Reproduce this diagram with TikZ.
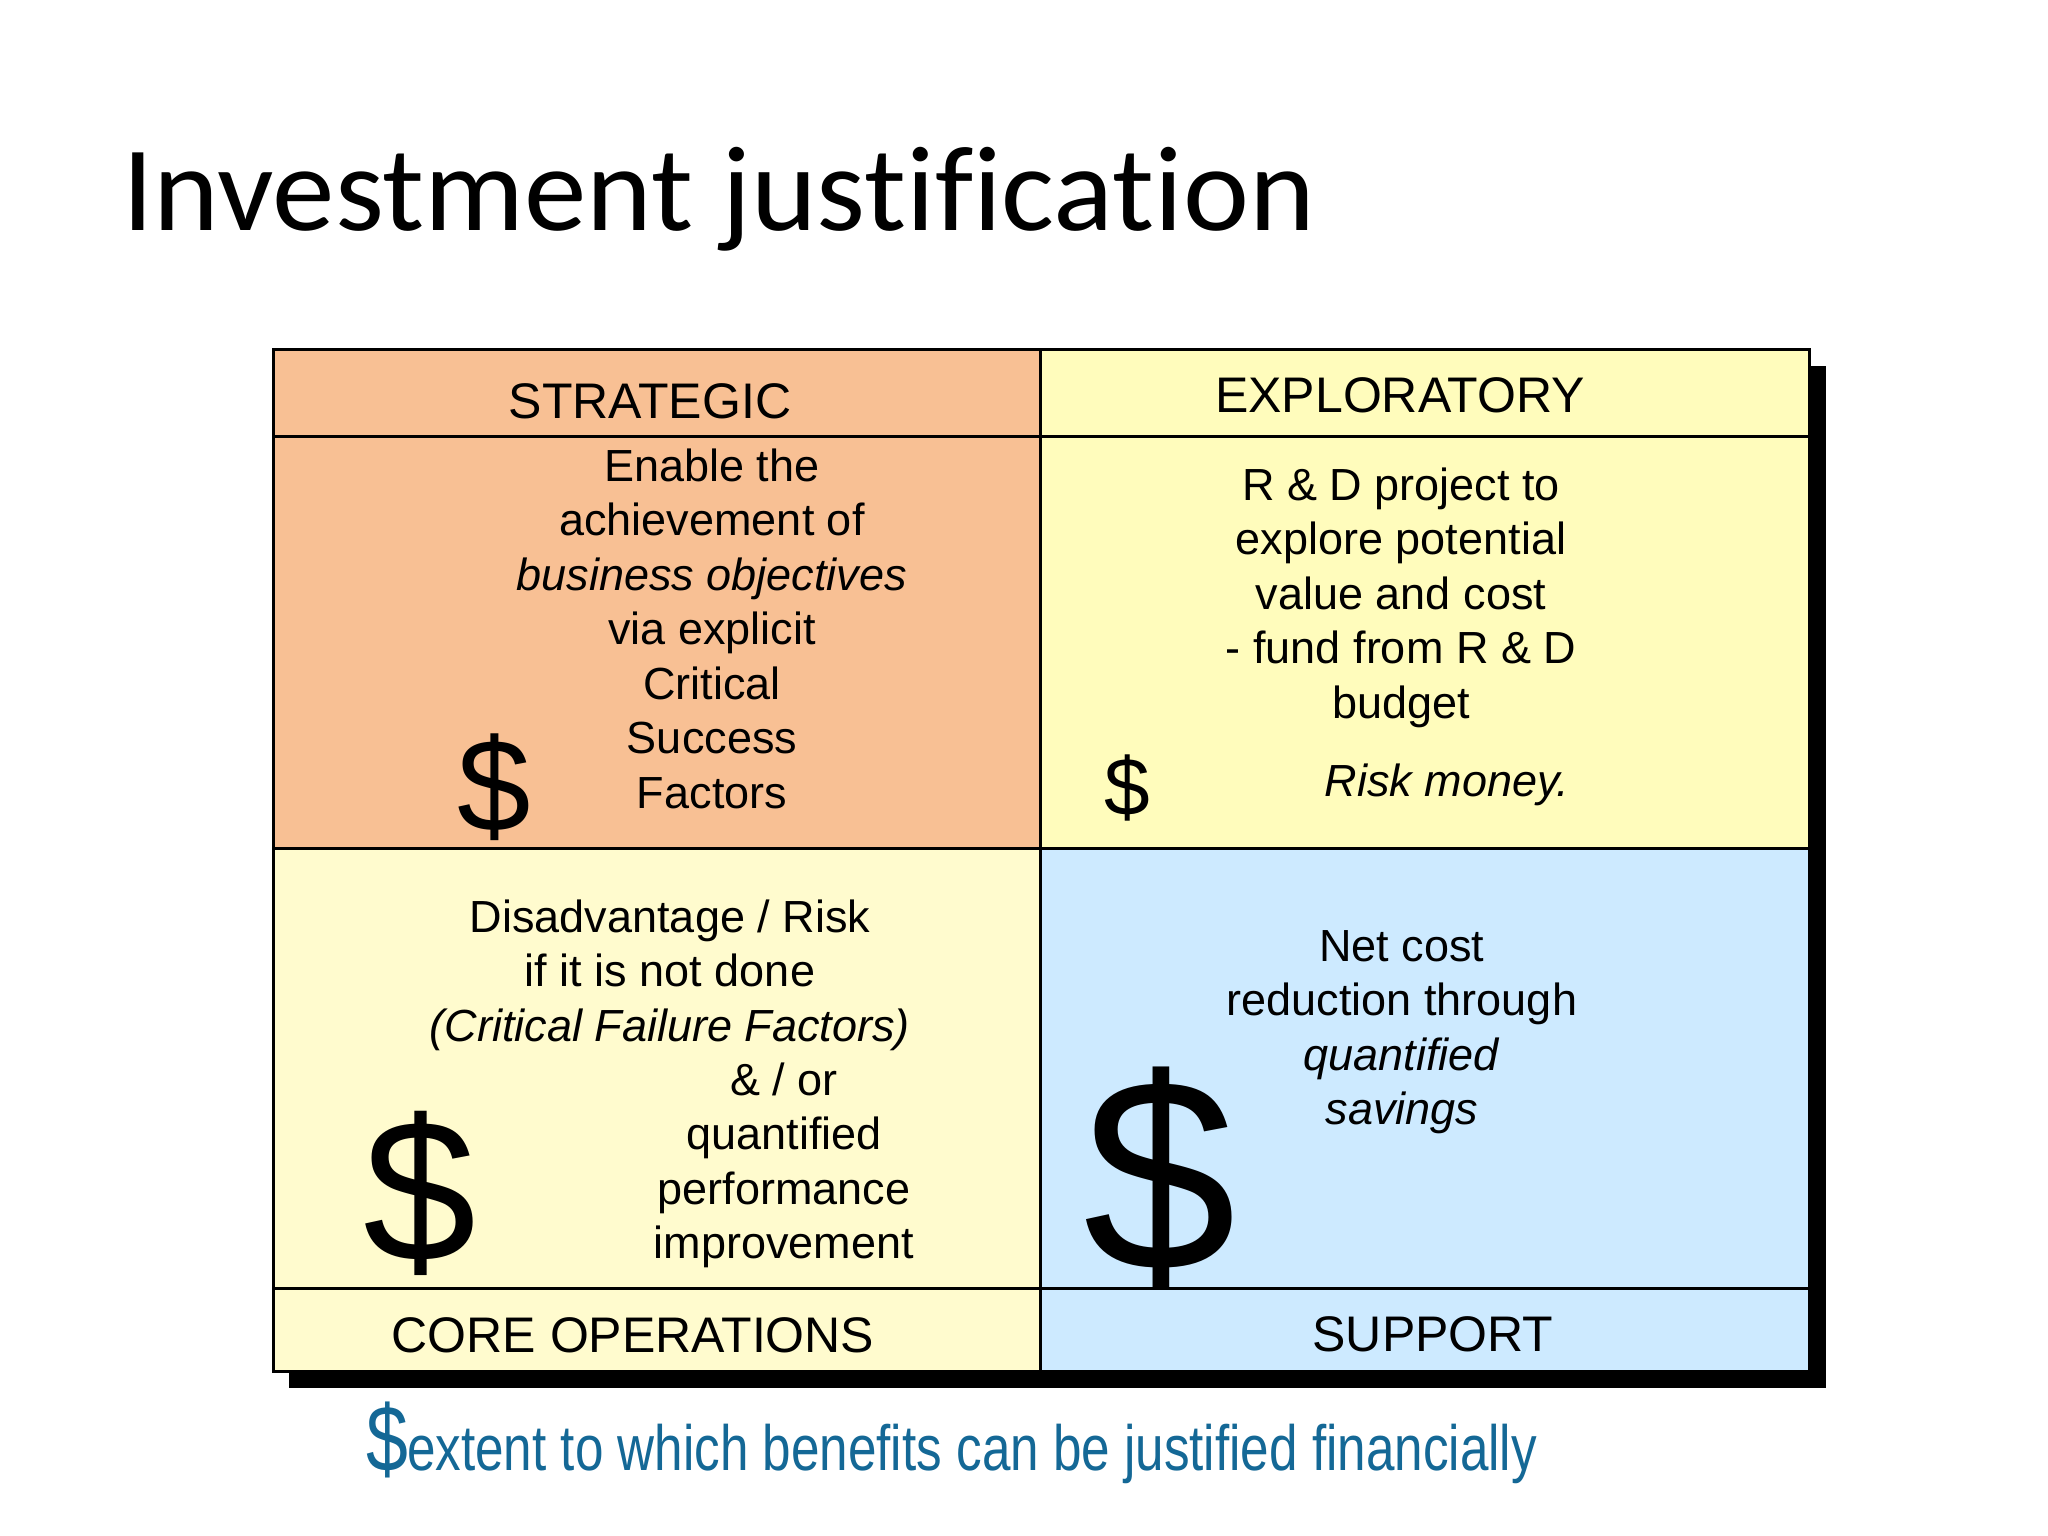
\documentclass[tikz,border=0pt]{standalone}
\usepackage{fontspec}
\setmainfont{Liberation Sans}
\newfontfamily\titlefont[Ligatures={NoCommon},FakeStretch=1.034]{Carlito}
\newfontfamily\narrowfont[FakeStretch=0.8]{Liberation Sans}
\definecolor{peach}{RGB}{248,192,148}
\definecolor{explyel}{RGB}{255,252,188}
\definecolor{coreyel}{RGB}{255,251,206}
\definecolor{supblue}{RGB}{205,234,255}
\definecolor{footblue}{RGB}{20,104,150}
\newcommand{\celltext}[1]{\begin{tabular}[t]{@{}c@{}}#1\end{tabular}}
\tikzset{
  header/.style={inner sep=0pt, anchor=base, font=\fontsize{50}{60}\selectfont},
  body/.style={inner sep=0pt, anchor=base, font=\fontsize{45}{54.5}\selectfont},
  dollar/.style={inner sep=0pt, anchor=center},
  grid/.style={line width=3pt, draw=black}
}
\begin{document}
\begin{tikzpicture}[x=1pt,y=-1pt]
\useasboundingbox (0,0) rectangle (2048,1536);
\fill[white] (0,0) rectangle (2048,1536);
% title
\node[inner sep=0pt, anchor=base west] (title) at (122,230) {\titlefont\fontsize{121}{145}\selectfont Investment justification};
% shadow
\fill[black] (289,366) rectangle (1826,1388);
% quadrants
\fill[peach] (273,349) rectangle (1040,848);
\fill[explyel] (1040,349) rectangle (1809,848);
\fill[coreyel] (273,848) rectangle (1040,1371);
\fill[supblue] (1040,848) rectangle (1809,1371);
\draw[grid] (273,349) rectangle (1809,1371);
\draw[grid] (1040,349) -- (1040,1371);
\draw[grid] (273,848) -- (1809,848);
\draw[grid] (273,436) -- (1809,436);
\draw[grid] (273,1288) -- (1809,1288);
% headers
\node[header] (hstrat) at (650,418) {STRATEGIC};
\node[header] (hexpl) at (1400,412) {EXPLORATORY};
\node[header] (hcore) at (633,1352) {CORE OPERATIONS};
\node[header] (hsup) at (1433,1351) {SUPPORT};
% strategic
\node[body] (bstrat) at (712,481) {\celltext{Enable the\\achievement of\\\textit{business objectives}\\via explicit\\Critical\\Success\\Factors}};
\node[dollar, font=\fontsize{132}{150}\selectfont] (dstrat) at (494,787) {\$};
% exploratory
\node[body] (bexpl) at (1401,500) {\celltext{R \& D project to\\explore potential\\value and cost\\- fund from R \& D\\budget}};
\node[body] (risk) at (1447,796) {\textit{Risk money.}};
\node[dollar, font=\fontsize{82}{95}\selectfont] (dexpl) at (1127,788) {\$};
% core operations
\node[body] (bcore) at (670,932) {\celltext{Disadvantage / Risk\\if it is not done\\\textit{(Critical Failure Factors)}}};
\node[body] (bcore2) at (784,1095) {\celltext{\& / or\\quantified\\performance\\improvement}};
\node[dollar, font=\fontsize{203}{220}\selectfont] (dcore) at (420,1193) {\$};
% support
\node[body] (bsup) at (1402,961) {\celltext{Net cost\\reduction through\\\textit{quantified}\\\textit{savings}}};
\node[dollar, font=\fontsize{275}{300}\selectfont] (dsup) at (1160,1178) {\$};
% footer
\node[dollar, text=footblue, font=\narrowfont\fontsize{94}{100}\selectfont] (dfoot) at (387,1440) {\$};
\node[inner sep=0pt, anchor=base west, text=footblue, font=\narrowfont\fontsize{64}{70}\selectfont] (foot) at (407,1470) {extent to which benefits can be justified financially};
\end{tikzpicture}
\end{document}
